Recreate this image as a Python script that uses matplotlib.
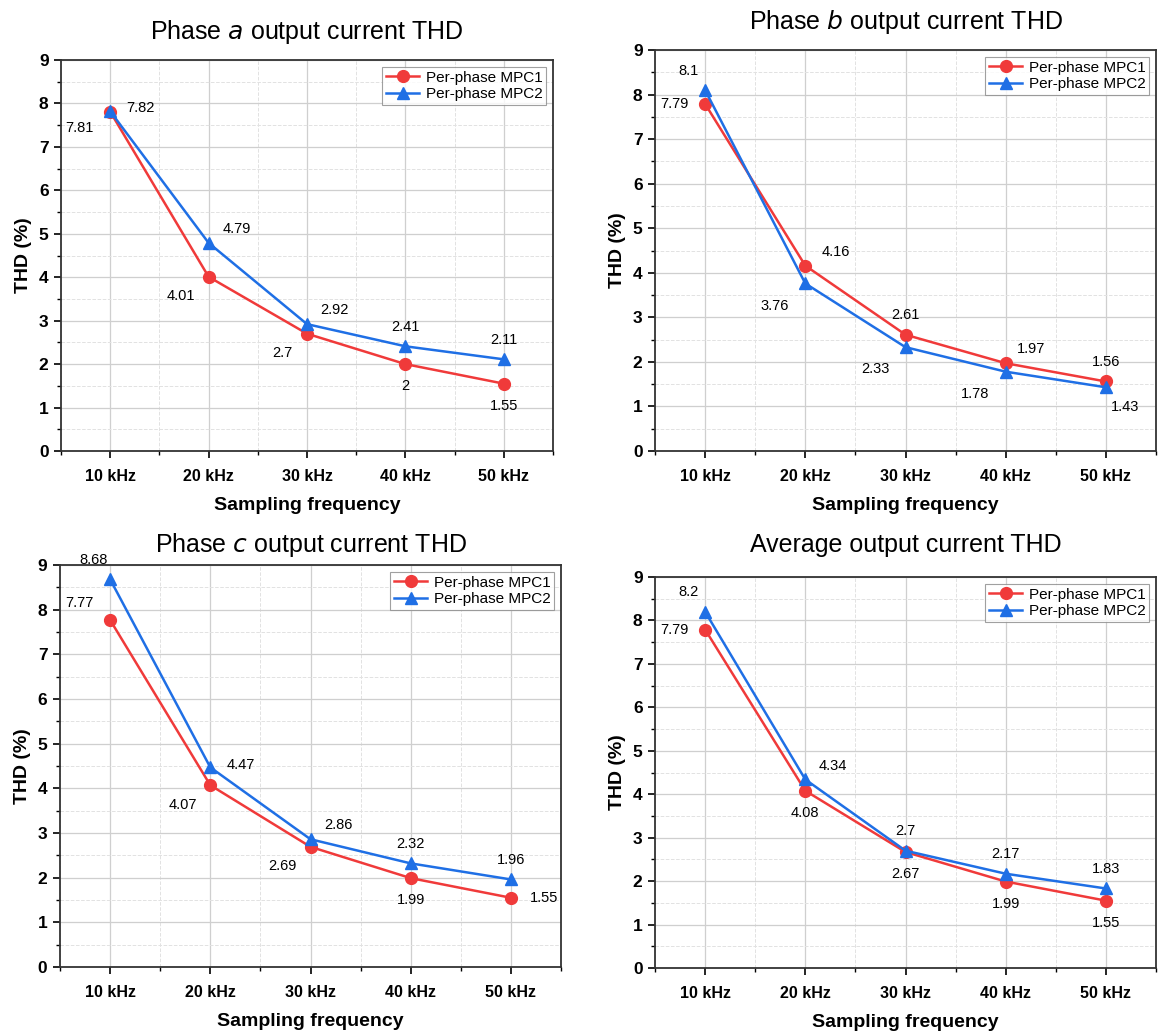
import matplotlib.pyplot as plt
from matplotlib.ticker import MultipleLocator, FixedLocator

plt.rcParams['font.family'] = ['Liberation Sans', 'DejaVu Sans']

freqs = ["10 kHz", "20 kHz", "30 kHz", "40 kHz", "50 kHz"]
titles = [r"Phase $\it{a}$ output current THD",
          r"Phase $\it{b}$ output current THD",
          r"Phase $\it{c}$ output current THD",
          "Average output current THD"]

mpc1_a = [7.81, 4.01, 2.7, 2, 1.55]
mpc2_a = [7.82, 4.79, 2.92, 2.41, 2.11]
mpc1_b = [7.79, 4.16, 2.61, 1.97, 1.56]
mpc2_b = [8.1, 3.76, 2.33, 1.78, 1.43]
mpc1_c = [7.77, 4.07, 2.69, 1.99, 1.55]
mpc2_c = [8.68, 4.47, 2.86, 2.32, 1.96]
mpc1_avg = [7.79, 4.08, 2.67, 1.99, 1.55]
mpc2_avg = [8.2, 4.34, 2.7, 2.17, 1.83]

series = [(mpc1_a, mpc2_a), (mpc1_b, mpc2_b), (mpc1_c, mpc2_c), (mpc1_avg, mpc2_avg)]

# label offsets in points (dx, dy) for each point
off1 = [
    [(-22, -12), (-20, -14), (-18, -14), (0, -16), (0, -16)],
    [(-22, 0), (22, 10), (0, 14), (18, 10), (0, 14)],
    [(-22, 12), (-20, -14), (-20, -14), (0, -16), (24, 0)],
    [(-22, 0), (0, -16), (0, -16), (0, -16), (0, -16)],
]
off2 = [
    [(22, 2), (20, 10), (20, 10), (0, 14), (0, 14)],
    [(-12, 14), (-22, -16), (-22, -16), (-22, -16), (14, -14)],
    [(-12, 14), (22, 2), (20, 10), (0, 14), (0, 14)],
    [(-12, 14), (20, 10), (0, 14), (0, 14), (0, 14)],
]

red = '#F03A3A'
blue = '#1F6FE5'

# axes positions in pixels (left, bottom, right, top)
W, H = 1158, 1032
boxes = [
    (61, 451, 553, 60),
    (655, 451, 1156, 50),
    (60, 967, 561, 565),
    (655, 968, 1156, 577),
]
title_y = [32, 22, 545, 545]

fig = plt.figure(figsize=(11.58, 10.32), dpi=100)
x = list(range(1, len(freqs) + 1))

for i, (y1, y2) in enumerate(series):
    l, b, r, t = boxes[i]
    ax = fig.add_axes([l / W, 1 - b / H, (r - l) / W, (b - t) / H])
    ax.plot(x, y1, color=red, marker='o', markersize=8.5, linewidth=1.8, label="Per-phase MPC1", zorder=3)
    ax.plot(x, y2, color=blue, marker='^', markersize=8.5, linewidth=1.8, label="Per-phase MPC2", zorder=3)
    for j in range(len(x)):
        ax.annotate(f"{y1[j]:g}", (x[j], y1[j]), textcoords='offset points', xytext=off1[i][j],
                    ha='center', va='center', fontsize=10.5)
        ax.annotate(f"{y2[j]:g}", (x[j], y2[j]), textcoords='offset points', xytext=off2[i][j],
                    ha='center', va='center', fontsize=10.5)
    ax.set_xlim(0.5, 5.5)
    ax.set_ylim(0, 9)
    ax.set_xticks(x)
    ax.set_xticklabels(freqs, fontsize=11.5, fontweight='bold')
    ax.xaxis.set_minor_locator(FixedLocator([0.5, 1.5, 2.5, 3.5, 4.5, 5.5]))
    ax.yaxis.set_major_locator(MultipleLocator(1))
    ax.yaxis.set_minor_locator(MultipleLocator(0.5))
    for lab in ax.get_yticklabels():
        lab.set_fontsize(12.5)
        lab.set_fontweight('bold')
    ax.tick_params(which='major', direction='out', length=5, width=1.2, pad=8)
    ax.tick_params(which='minor', direction='out', length=3, width=1)
    ax.tick_params(axis='y', which='major', pad=4)
    ax.grid(which='major', color='#cfcfcf', linewidth=0.9)
    ax.grid(which='minor', color='#e2e2e2', linewidth=0.7, linestyle='--')
    ax.set_axisbelow(True)
    for sp in ax.spines.values():
        sp.set_linewidth(1.3)
        sp.set_color('#333333')
    ax.set_xlabel("Sampling frequency", fontsize=14, fontweight='bold', labelpad=9)
    ax.set_ylabel("THD (%)", fontsize=14, fontweight='bold', labelpad=5)
    leg = ax.legend(loc='upper right', fontsize=11, frameon=True, fancybox=False,
                    edgecolor='#888888', handlelength=2.2, borderpad=0.25,
                    labelspacing=0.15, handletextpad=0.4, borderaxespad=0.45)
    leg.get_frame().set_linewidth(0.8)
    fig.text((l + r) / 2 / W, 1 - title_y[i] / H, titles[i], ha='center', va='center', fontsize=18)

fig.savefig("out.png", dpi=100)
